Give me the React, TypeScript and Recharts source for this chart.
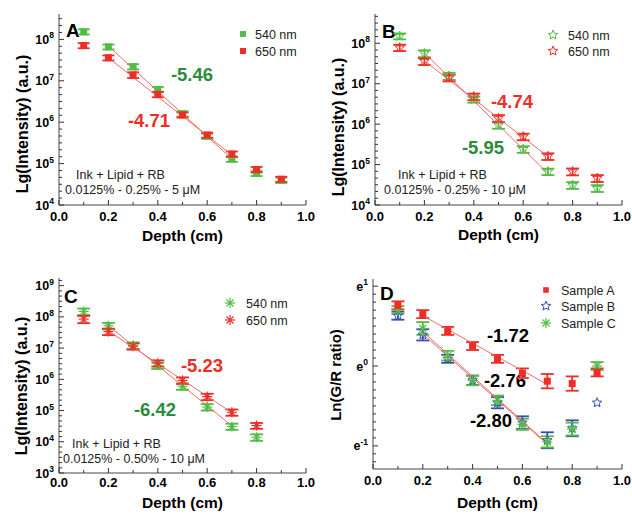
import React from 'react';
import { ComposedChart, Scatter, Line, XAxis, YAxis, ErrorBar, Customized } from 'recharts';

// ---------- data ----------
const depth9 = [0.1, 0.2, 0.3, 0.4, 0.5, 0.6, 0.7, 0.8, 0.9];
const depth8 = [0.1, 0.2, 0.3, 0.4, 0.5, 0.6, 0.7, 0.8];
const fitDepth = [0.2, 0.7];

const xTicks = [0, 0.1, 0.2, 0.3, 0.4, 0.5, 0.6, 0.7, 0.8, 0.9, 1.0];
const xMajor = [0, 0.2, 0.4, 0.6, 0.8, 1.0];
const xLabels = ['0.0', '0.2', '0.4', '0.6', '0.8', '1.0'];

// Panel A
const a540 = [1.53e8, 6.6e7, 2.2e7, 6.2e6, 1.6e6, 4.6e5, 1.3e5, 5.8e4, 4.0e4];
const a540Err = [2.2e7, 9e6, 3.2e6, 9e5, 2.3e5, 6.5e4, 2e4, 8e3, 6e3];
const a650 = [7.1e7, 3.6e7, 1.38e7, 4.7e6, 1.5e6, 4.9e5, 1.7e5, 7.2e4, 4.2e4];
const a650Err = [1e7, 5e6, 2.2e6, 7e5, 2.1e5, 7e4, 2.6e4, 1.1e4, 6e3];
const fitA540 = [6.9e7, 1.29e5];
const fitA650 = [3.6e7, 1.6e5];
const aExps = [4, 5, 6, 7, 8];

// Panel B
const b540 = [1.5e8, 5.6e7, 1.55e7, 4.1e6, 9.5e5, 2.4e5, 6.7e4, 3.1e4, 2.6e4];
const b540Err = [2.5e7, 1.1e7, 3e6, 7e5, 1.8e5, 4.5e4, 1.2e4, 6e3, 5e3];
const b650 = [7.8e7, 3.6e7, 1.4e7, 4.8e6, 1.4e6, 4.9e5, 1.6e5, 6.7e4, 4.6e4];
const b650Err = [1.4e7, 7e6, 2.6e6, 9e5, 2.8e5, 9e4, 3e4, 1.3e4, 9e3];
const fitB540 = [5.75e7, 6.1e4];
const fitB650 = [3.7e7, 1.58e5];
const bExps = [4, 5, 6, 7, 8];

// Panel C
const c540 = [1.5e8, 5.2e7, 1.23e7, 2.8e6, 6.0e5, 1.3e5, 3.1e4, 1.4e4];
const c540Err = [3.5e7, 1.2e7, 2.8e6, 6.5e5, 1.4e5, 3e4, 7e3, 3.3e3];
const c650 = [8.5e7, 3.4e7, 1.15e7, 3.3e6, 9.3e5, 2.8e5, 8.8e4, 3.3e4];
const c650Err = [2.2e7, 8e6, 2.6e6, 7.5e5, 2.2e5, 6.5e4, 2e4, 7e3];
const fitC540 = [5.25e7, 3.24e4];
const fitC650 = [3.55e7, 8.6e4];
const cExps = [3, 4, 5, 6, 7, 8, 9];

// Panel D (natural-log of G/R ratio)
const dA = [0.76, 0.65, 0.44, 0.25, 0.09, -0.09, -0.19, -0.22, -0.08];
const dAErr = [0.05, 0.05, 0.05, 0.05, 0.05, 0.06, 0.09, 0.09, 0.05];
const dB = [0.63, 0.39, 0.09, -0.18, -0.46, -0.71, -0.93, -0.78, -0.46];
const dBErr = [0.05, 0.07, 0.05, 0.06, 0.07, 0.08, 0.1, 0.1, 0];
const dC = [0.7, 0.47, 0.13, -0.18, -0.43, -0.73, -0.95, -0.79, 0.0];
const dCErr = [0.05, 0.08, 0.06, 0.06, 0.06, 0.07, 0.07, 0.08, 0.05];
const fitDA = [0.63, -0.23];
const fitDB = [0.4, -0.98];
const fitDC = [0.43, -0.97];
const dExps = [-1, 0, 1];

// ---------- styles ----------
const FONT = '"Liberation Sans", Arial, Helvetica, sans-serif';
const GREEN = '#52bd44';
const GREEN_TXT = '#2a8c3c';
const RED = '#ee2e26';
const BLUE = '#3a4db2';
const FIT = '#f06a66';
const AXIS = '#858585';
const TICK = '#333';
const TM = 4;

type Shape = 'square' | 'star' | 'asterisk';

function Marker({ shape, cx, cy, color, s = 1 }: { shape: Shape; cx: number; cy: number; color: string; s?: number }) {
  if (cx == null || cy == null || isNaN(cx) || isNaN(cy)) return null;
  if (shape === 'square') {
    const h = 3.5 * s;
    return <rect x={cx - h} y={cy - h} width={2 * h} height={2 * h} fill={color} />;
  }
  if (shape === 'star') {
    const pts: string[] = [];
    for (let i = 0; i < 10; i++) {
      const r = (i % 2 === 0 ? 5 : 2.2) * s;
      const a = -Math.PI / 2 + (i * Math.PI) / 5;
      pts.push(`${cx + r * Math.cos(a)},${cy + r * Math.sin(a)}`);
    }
    return <polygon points={pts.join(' ')} fill="none" stroke={color} strokeWidth={1} />;
  }
  return (
    <g stroke={color} strokeWidth={1.2}>
      {[0, 45, 90, 135].map((d) => {
        const a = (d * Math.PI) / 180;
        const r = 5 * s;
        return <line key={d} x1={cx - r * Math.cos(a)} y1={cy - r * Math.sin(a)} x2={cx + r * Math.cos(a)} y2={cy + r * Math.sin(a)} />;
      })}
    </g>
  );
}

type Series = { xs: number[]; ys: number[]; errs: number[]; color: string; shape: Shape; cap: number };
type Txt = { text: string; x: number; y: number; size: number; bold?: boolean; color: string; anchor?: 'start' | 'middle' | 'end' };

type PanelProps = {
  box: { left: number; top: number; right: number; bottom: number };
  log: boolean;
  yDomain: [number, number];
  exps: number[];
  base: string;
  series: Series[];
  fits: number[][];
  texts: Txt[];
  legend: { label: string; color: string; shape: Shape; s?: number }[];
  legendX: number;
  legendTextX: number;
  legendRows: number[];
  yLabel: string;
  yLabelPos: [number, number];
  yLabelSize: number;
  xLabelY: number;
  xTickDy: number;
  letter: string;
  letterPos: [number, number];
};

const W = 316;
const H = 258;
const YW = 50;
const XH = 30;

function Panel(p: PanelProps) {
  const { box } = p;
  const margin = { left: box.left - YW, top: box.top, right: W - box.right, bottom: H - box.bottom - XH };

  // y ticks: majors + evenly spaced minors
  const yTicks: number[] = [];
  if (p.log) {
    for (let i = 0; i < p.exps.length; i++) {
      const n = p.exps[i];
      yTicks.push(Math.pow(10, n));
      for (let k = 1; k < 6; k++) {
        const v = Math.pow(10, n + k / 6);
        if (v <= p.yDomain[1]) yTicks.push(v);
      }
    }
  } else {
    for (let i = -12; i <= 10; i++) {
      const v = i / 10;
      if (v >= p.yDomain[0] && v <= p.yDomain[1]) yTicks.push(v);
    }
  }

  const YTick = (t: any) => {
    const v = t.payload.value;
    const ax = t.x + TM;
    let exp: number | null = null;
    if (p.log) {
      const l = Math.log10(v);
      if (Math.abs(l - Math.round(l)) < 1e-6) exp = Math.round(l);
    } else if (Math.abs(v - Math.round(v)) < 1e-6) {
      exp = Math.round(v);
    }
    const major = exp !== null;
    return (
      <g>
        <line x1={ax} x2={ax + (major ? 5 : 3)} y1={t.y} y2={t.y} stroke={TICK} strokeWidth={1} />
        {major && (
          <text x={t.x - 1} y={t.y + 4.5} textAnchor="end" fontFamily={FONT} fontWeight="bold" fontSize={12.5} fill="#000">
            {p.base}
            <tspan dy={-5.5} fontSize={8.5}>{String(exp)}</tspan>
          </text>
        )}
      </g>
    );
  };

  const XTick = (t: any) => {
    const v = t.payload.value;
    const idx = xMajor.findIndex((m) => Math.abs(m - v) < 1e-9);
    const base = t.y - TM;
    return (
      <g>
        <line x1={t.x} x2={t.x} y1={base} y2={base - (idx >= 0 ? 5 : 3)} stroke={TICK} strokeWidth={1} />
        {idx >= 0 && (
          <text x={t.x} y={base + p.xTickDy} textAnchor="middle" fontFamily={FONT} fontWeight="bold" fontSize={13} fill="#000">
            {xLabels[idx]}
          </text>
        )}
      </g>
    );
  };

  const Overlay = () => (
    <g fontFamily={FONT}>
      <text x={p.letterPos[0]} y={p.letterPos[1]} fontSize={19} fontWeight="bold" fill="#000">{p.letter}</text>
      {p.texts.map((t, i) => (
        <text key={i} x={t.x} y={t.y} fontSize={t.size} fontWeight={t.bold ? 'bold' : 'normal'} fill={t.color} textAnchor={t.anchor || 'start'}>
          {t.text}
        </text>
      ))}
      {p.legend.map((l, i) => (
        <g key={l.label}>
          <Marker shape={l.shape} cx={p.legendX} cy={p.legendRows[i]} color={l.color} s={l.s ?? 0.85} />
          <text x={p.legendTextX} y={p.legendRows[i] + 4.5} fontSize={12.5} fill="#222">{l.label}</text>
        </g>
      ))}
      <text x={(box.left + box.right) / 2} y={p.xLabelY} textAnchor="middle" fontSize={15.5} fontWeight="bold" fill="#000">Depth (cm)</text>
      <text
        x={p.yLabelPos[0]}
        y={p.yLabelPos[1]}
        textAnchor="middle"
        dominantBaseline="central"
        fontSize={p.yLabelSize}
        fontWeight="bold"
        fill="#000"
        transform={`rotate(-90 ${p.yLabelPos[0]} ${p.yLabelPos[1]})`}
      >
        {p.yLabel}
      </text>
    </g>
  );

  return (
    <ComposedChart width={W} height={H} margin={margin}>
      <XAxis
        dataKey="x"
        type="number"
        domain={[0, 1]}
        ticks={xTicks}
        interval={0}
        tickSize={0}
        tickMargin={TM}
        tickLine={false}
        tick={XTick}
        height={XH}
        axisLine={{ stroke: AXIS, strokeWidth: 1.5 }}
        allowDataOverflow
      />
      <XAxis xAxisId="top" orientation="top" type="number" domain={[0, 1]} height={0} tick={false} tickLine={false} axisLine={{ stroke: AXIS, strokeWidth: 1.5 }} />
      <YAxis
        dataKey="y"
        type="number"
        scale={p.log ? 'log' : 'linear'}
        domain={p.yDomain}
        ticks={yTicks}
        interval={0}
        tickSize={0}
        tickMargin={TM}
        tickLine={false}
        tick={YTick}
        width={YW}
        axisLine={{ stroke: AXIS, strokeWidth: 1.5 }}
        allowDataOverflow
      />
      <YAxis yAxisId="right" orientation="right" type="number" domain={[0, 1]} width={0} tick={false} tickLine={false} axisLine={{ stroke: AXIS, strokeWidth: 1.5 }} />
      {p.series.map((s, i) => (
        <Scatter
          key={'s' + i}
          data={s.xs.map((x, j) => ({ x, y: s.ys[j], e: s.errs[j] }))}
          dataKey="y"
          isAnimationActive={false}
          shape={(sp: any) => <Marker shape={s.shape} cx={sp.cx} cy={sp.cy} color={s.color} />}
        >
          <ErrorBar dataKey="e" direction="y" width={s.cap} stroke={s.color} strokeWidth={1.8} />
        </Scatter>
      ))}
      {p.fits.map((f, i) => (
        <Line
          key={'f' + i}
          data={fitDepth.map((x, j) => ({ x, y: f[j] }))}
          dataKey="y"
          stroke={FIT}
          strokeWidth={1}
          dot={false}
          activeDot={false}
          isAnimationActive={false}
        />
      ))}
      <Customized component={Overlay} />
    </ComposedChart>
  );
}

const panelA: PanelProps = {
  box: { left: 59, top: 14, right: 306, bottom: 205 },
  log: true,
  yDomain: [1e4, 4.1e8],
  exps: aExps,
  base: '10',
  series: [
    { xs: depth9, ys: a540, errs: a540Err, color: GREEN, shape: 'square', cap: 6 },
    { xs: depth9, ys: a650, errs: a650Err, color: RED, shape: 'square', cap: 6 },
  ],
  fits: [fitA540, fitA650],
  texts: [
    { text: '-5.46', x: 192, y: 81, size: 18.5, bold: true, color: GREEN_TXT, anchor: 'middle' },
    { text: '-4.71', x: 149, y: 127, size: 18.5, bold: true, color: RED, anchor: 'middle' },
    { text: 'Ink + Lipid + RB', x: 76, y: 179, size: 12.5, color: '#222' },
    { text: '0.0125% - 0.25% - 5 \u03bcM', x: 65, y: 194, size: 12.5, color: '#222' },
  ],
  legend: [
    { label: '540 nm', color: GREEN, shape: 'square' },
    { label: '650 nm', color: RED, shape: 'square' },
  ],
  legendX: 243,
  legendTextX: 255,
  legendRows: [34, 51],
  yLabel: 'Lg(Intensity) (a.u.)',
  yLabelPos: [22, 124],
  yLabelSize: 16,
  xLabelY: 241,
  xTickDy: 16,
  letter: 'A',
  letterPos: [66, 37],
};

const panelB: PanelProps = {
  box: { left: 59, top: 14, right: 306, bottom: 205 },
  log: true,
  yDomain: [1e4, 5.3e8],
  exps: bExps,
  base: '10',
  series: [
    { xs: depth9, ys: b540, errs: b540Err, color: GREEN, shape: 'star', cap: 6.5 },
    { xs: depth9, ys: b650, errs: b650Err, color: RED, shape: 'star', cap: 6.5 },
  ],
  fits: [fitB540, fitB650],
  texts: [
    { text: '-4.74', x: 196, y: 108, size: 18.5, bold: true, color: RED, anchor: 'middle' },
    { text: '-5.95', x: 167, y: 154, size: 18.5, bold: true, color: GREEN_TXT, anchor: 'middle' },
    { text: 'Ink + Lipid + RB', x: 82, y: 179, size: 12.5, color: '#222' },
    { text: '0.0125% - 0.25% - 10 \u03bcM', x: 68, y: 194, size: 12.5, color: '#222' },
  ],
  legend: [
    { label: '540 nm', color: GREEN, shape: 'star', s: 1 },
    { label: '650 nm', color: RED, shape: 'star', s: 1 },
  ],
  legendX: 237,
  legendTextX: 252,
  legendRows: [35, 51],
  yLabel: 'Lg(Intensity) (a.u.)',
  yLabelPos: [22, 127],
  yLabelSize: 16,
  xLabelY: 240,
  xTickDy: 16,
  letter: 'B',
  letterPos: [66, 38],
};

const panelC: PanelProps = {
  box: { left: 59, top: 20, right: 306, bottom: 215 },
  log: true,
  yDomain: [1e3, 1.76e9],
  exps: cExps,
  base: '10',
  series: [
    { xs: depth8, ys: c540, errs: c540Err, color: GREEN, shape: 'asterisk', cap: 6.5 },
    { xs: depth8, ys: c650, errs: c650Err, color: RED, shape: 'asterisk', cap: 6.5 },
  ],
  fits: [fitC540, fitC650],
  texts: [
    { text: '-5.23', x: 202, y: 114, size: 18.5, bold: true, color: RED, anchor: 'middle' },
    { text: '-6.42', x: 155, y: 158, size: 18.5, bold: true, color: GREEN_TXT, anchor: 'middle' },
    { text: 'Ink + Lipid + RB', x: 72, y: 190, size: 12.5, color: '#222' },
    { text: '0.0125% - 0.50% - 10 \u03bcM', x: 63, y: 205, size: 12.5, color: '#222' },
  ],
  legend: [
    { label: '540 nm', color: GREEN, shape: 'asterisk', s: 1 },
    { label: '650 nm', color: RED, shape: 'asterisk', s: 1 },
  ],
  legendX: 230,
  legendTextX: 246,
  legendRows: [45, 62],
  yLabel: 'Lg(Intensity) (a.u.)',
  yLabelPos: [21, 128],
  yLabelSize: 16,
  xLabelY: 250,
  xTickDy: 14,
  letter: 'C',
  letterPos: [64, 45],
};

const panelD: PanelProps = {
  box: { left: 57, top: 21, right: 306, bottom: 211 },
  log: false,
  yDomain: [-1.29, 1.09],
  exps: dExps,
  base: 'e',
  series: [
    { xs: depth9, ys: dB, errs: dBErr, color: BLUE, shape: 'star', cap: 6.5 },
    { xs: depth9, ys: dC, errs: dCErr, color: GREEN, shape: 'asterisk', cap: 6.5 },
    { xs: depth9, ys: dA, errs: dAErr, color: RED, shape: 'square', cap: 6.5 },
  ],
  fits: [fitDA, fitDB, fitDC],
  texts: [
    { text: '-1.72', x: 192, y: 84, size: 18.5, bold: true, color: '#000', anchor: 'middle' },
    { text: '-2.76', x: 189, y: 129, size: 18.5, bold: true, color: '#000', anchor: 'middle' },
    { text: '-2.80', x: 175, y: 169, size: 18.5, bold: true, color: '#000', anchor: 'middle' },
  ],
  legend: [
    { label: 'Sample A', color: RED, shape: 'square', s: 0.8 },
    { label: 'Sample B', color: BLUE, shape: 'star', s: 1 },
    { label: 'Sample C', color: GREEN, shape: 'asterisk', s: 1 },
  ],
  legendX: 230,
  legendTextX: 245,
  legendRows: [32, 48, 65],
  yLabel: 'Ln(G/R ratio)',
  yLabelPos: [19, 117],
  yLabelSize: 15,
  xLabelY: 250,
  xTickDy: 16,
  letter: 'D',
  letterPos: [64, 42],
};

export default function App() {
  const cell = (x: number, y: number): React.CSSProperties => ({ position: 'absolute', left: x, top: y, width: W, height: H });
  return (
    <div style={{ position: 'absolute', left: 0, top: 0, width: 632, height: 516, background: '#fff', overflow: 'hidden' }}>
      <div style={cell(0, 0)}><Panel {...panelA} /></div>
      <div style={cell(316, 0)}><Panel {...panelB} /></div>
      <div style={cell(0, 258)}><Panel {...panelC} /></div>
      <div style={cell(316, 258)}><Panel {...panelD} /></div>
    </div>
  );
}
